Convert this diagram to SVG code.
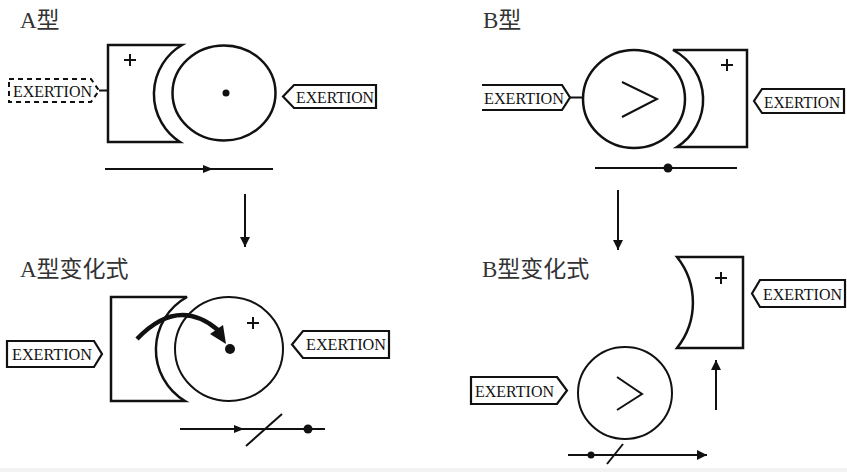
<svg xmlns="http://www.w3.org/2000/svg" width="847" height="472" viewBox="0 0 847 472">
<style>
.ln{fill:none;stroke:#111;stroke-width:2}
.sh{fill:#fff;stroke:#111;stroke-width:2.5}
.tag{fill:#fff;stroke:#111;stroke-width:2.2}
.dash{fill:#fff;stroke:#111;stroke-width:2;stroke-dasharray:5 4}
.pl{fill:none;stroke:#111;stroke-width:2}
.tx{font-family:"Liberation Serif","Times New Roman",serif;font-size:17px;fill:#111}
.title{font-family:"Liberation Serif","Noto Sans CJK SC",serif;font-size:23px;fill:#333}
</style>
<defs>
<marker id="ah" viewBox="0 0 10 10" refX="10" refY="5" markerWidth="10" markerHeight="10" markerUnits="userSpaceOnUse" orient="auto">
<path d="M0,0 L10,5 L0,10 Z" fill="#111"/>
</marker>
</defs>
<rect x="0" y="468" width="847" height="4" fill="#f2f2f2"/>

<text class="title" x="20" y="28">A型</text>
<text class="title" x="483" y="28">B型</text>
<text class="title" x="20" y="277">A型变化式</text>
<text class="title" x="482" y="277">B型变化式</text>

<g id="a-block">
<path class="sh" d="M108,45 L182,45 A57,57 0 0 0 180,142 L108,142 Z"/>
<path class="pl" d="M124,60 H136 M130,54 V66"/>
</g>
<g id="a-circle">
<ellipse class="sh" cx="224" cy="93" rx="51.5" ry="47.5"/>
<circle cx="226" cy="93" r="3.5" fill="#111"/>
</g>
<g id="a-left-tag">
<path class="dash" d="M9,79 L91,79 L99,90.5 L91,102 L9,102 Z"/>
<text class="tx" x="13" y="97" textLength="79" lengthAdjust="spacingAndGlyphs">EXERTION</text>
</g>
<g id="a-right-tag">
<path class="tag" d="M376,85 L294,85 L283,96.5 L294,108 L376,108 Z"/>
<text class="tx" x="296" y="103" textLength="78" lengthAdjust="spacingAndGlyphs">EXERTION</text>
</g>

<g id="b-circle">
<ellipse class="sh" cx="634" cy="99" rx="51" ry="49"/>
<path class="ln" d="M622,82 L657,99 L622,117"/>
</g>
<g id="b-block">
<path class="sh" d="M673,50 L747,50 L747,147 L677,147 A56,56 0 0 0 673,50 Z"/>
<path class="pl" d="M721,65 H733 M727,59 V71"/>
</g>
<g id="b-left-tag">
<path class="tag" d="M482,85 L562,85 L570,97.5 L562,110 L482,110"/>
<text class="tx" x="484" y="104" textLength="80" lengthAdjust="spacingAndGlyphs">EXERTION</text>
</g>
<g id="b-right-tag">
<path class="tag" d="M844,89 L762,89 L754,101 L762,113 L844,113 Z"/>
<text class="tx" x="764" y="108" textLength="76" lengthAdjust="spacingAndGlyphs">EXERTION</text>
</g>

<g id="av-block">
<path class="sh" d="M111,297 L187,297 A60,60 0 0 0 185,401 L111,401 Z"/>
</g>
<g id="av-circle">
<ellipse class="ln" cx="229" cy="349" rx="54" ry="52"/>
<circle cx="230" cy="349" r="5" fill="#111"/>
<path class="pl" d="M247,323 H259 M253,317 V329"/>
</g>
<g id="av-left-tag">
<path class="tag" d="M7,341 L94,341 L102,354 L94,367 L7,367 Z"/>
<text class="tx" x="12" y="360" textLength="80" lengthAdjust="spacingAndGlyphs">EXERTION</text>
</g>
<g id="av-right-tag">
<path class="tag" d="M389,331 L303,331 L292,344.5 L303,358 L389,358 Z"/>
<text class="tx" x="306" y="350" textLength="80" lengthAdjust="spacingAndGlyphs">EXERTION</text>
</g>

<g id="bv-block">
<path class="sh" d="M677,257 L743,257 L743,348 L677,348 A73,73 0 0 0 677,257 Z"/>
<path class="pl" d="M715,278 H727 M721,272 V284"/>
</g>
<g id="bv-right-tag">
<path class="tag" d="M845,280 L760,280 L752,293.5 L760,307 L845,307 Z"/>
<text class="tx" x="763" y="300" textLength="79" lengthAdjust="spacingAndGlyphs">EXERTION</text>
</g>
<g id="bv-circle">
<ellipse class="ln" cx="625" cy="393" rx="47" ry="46"/>
<path class="ln" d="M617,377 L642,394 L617,410"/>
</g>
<g id="bv-left-tag">
<path class="tag" d="M471,377 L557,377 L567,390.5 L557,404 L471,404 Z"/>
<text class="tx" x="475" y="397" textLength="79" lengthAdjust="spacingAndGlyphs">EXERTION</text>
</g>

<g id="connectors">
<line class="ln" x1="99" y1="90.5" x2="108" y2="90.5"/>
<line class="ln" x1="570" y1="97.5" x2="583" y2="97.5"/>
<line class="ln" x1="105" y1="169" x2="273" y2="169"/>
<path d="M203,165 L213,169 L203,173 Z" fill="#111"/>
<line class="ln" x1="595" y1="168" x2="737" y2="168"/>
<circle cx="668" cy="168" r="4.5" fill="#111"/>
<line class="ln" x1="245" y1="194" x2="245" y2="247" marker-end="url(#ah)"/>
<line class="ln" x1="618" y1="190" x2="618" y2="250" marker-end="url(#ah)"/>
<path d="M137,339 Q178,296 218,330" fill="none" stroke="#111" stroke-width="4.5"/>
<path d="M210,334 L226,344 L223,325 Z" fill="#111"/>
<line class="ln" x1="180" y1="429" x2="325" y2="429"/>
<path d="M234,425 L244,429 L234,433 Z" fill="#111"/>
<line class="ln" x1="246" y1="446" x2="282" y2="414"/>
<circle cx="308" cy="429" r="4.5" fill="#111"/>
<line class="ln" x1="716" y1="410" x2="716" y2="360" marker-end="url(#ah)"/>
<line class="ln" x1="568" y1="455" x2="707" y2="455" marker-end="url(#ah)"/>
<circle cx="591" cy="455" r="3.5" fill="#111"/>
<line class="ln" x1="607" y1="464" x2="623" y2="444"/>
</g>
</svg>
